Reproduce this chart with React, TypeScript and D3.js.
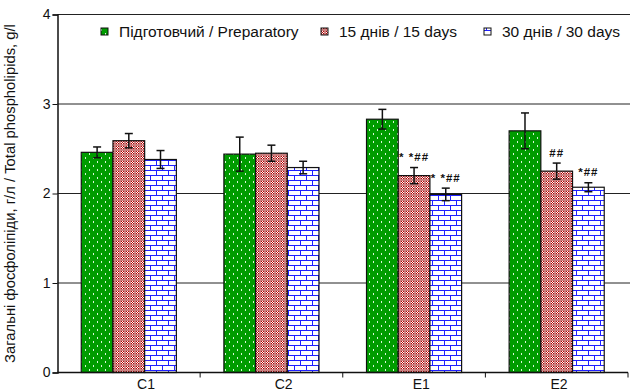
import React, { useEffect, useRef } from "react";
import * as d3 from "d3";

const categories = ["C1", "C2", "E1", "E2"];
const seriesNames = ["Підготовчий / Preparatory", "15 днів / 15 days", "30 днів / 30 days"];
const preparatory = [2.46, 2.44, 2.83, 2.7];
const days15 = [2.59, 2.45, 2.2, 2.25];
const days30 = [2.38, 2.29, 1.99, 2.07];
const errPreparatory = [0.06, 0.19, 0.11, 0.2];
const errDays15 = [0.08, 0.09, 0.09, 0.09];
const errDays30 = [0.1, 0.07, 0.07, 0.05];
const marks15 = ["", "", "* *##", "##"];
const marks30 = ["", "", "* *##", "*##"];
const yTicks = [0, 1, 2, 3, 4];

const App = () => {
  const svgRef = useRef<SVGSVGElement>(null);

  useEffect(() => {
    const width = 630;
    const height = 392;
    const margin = { top: 14.5, right: 2, left: 57.5, bottom: 19.5 };
    const font = "'Liberation Sans', Arial, sans-serif";

    const svg = d3.select(svgRef.current);
    svg.selectAll("*").remove();

    // patterns
    const defs = svg.append("defs");
    const pg = defs
      .append("pattern")
      .attr("id", "pGreen")
      .attr("patternUnits", "userSpaceOnUse")
      .attr("width", 8)
      .attr("height", 8);
    pg.append("rect").attr("width", 8).attr("height", 8).attr("fill", "#009c00");
    pg.append("rect").attr("x", 1).attr("y", 1).attr("width", 1).attr("height", 2).attr("fill", "#d8f8d8");
    pg.append("rect").attr("x", 5).attr("y", 5).attr("width", 1).attr("height", 2).attr("fill", "#d8f8d8");

    const pp = defs
      .append("pattern")
      .attr("id", "pPink")
      .attr("patternUnits", "userSpaceOnUse")
      .attr("width", 5)
      .attr("height", 5);
    pp.append("rect").attr("width", 5).attr("height", 5).attr("fill", "#cc7f7f");
    [
      [1, 1, "#b80000"], [2, 1, "#ffffff"], [3, 1, "#b80000"],
      [1, 2, "#ffffff"], [2, 2, "#b80000"], [3, 2, "#ffffff"],
      [1, 3, "#b80000"], [2, 3, "#ffffff"], [3, 3, "#b80000"],
    ].forEach(([x, y, c]) => {
      pp.append("rect").attr("x", x).attr("y", y).attr("width", 1).attr("height", 1).attr("fill", c as string);
    });

    const pb = defs
      .append("pattern")
      .attr("id", "pBlue")
      .attr("patternUnits", "userSpaceOnUse")
      .attr("width", 12)
      .attr("height", 10);
    pb.append("rect").attr("width", 12).attr("height", 10).attr("fill", "#ffffff");
    pb.append("rect").attr("x", 0).attr("y", 0).attr("width", 12).attr("height", 1).attr("fill", "#2020ff");
    pb.append("rect").attr("x", 0).attr("y", 5).attr("width", 12).attr("height", 1).attr("fill", "#2020ff");
    pb.append("rect").attr("x", 0).attr("y", 0).attr("width", 1).attr("height", 5).attr("fill", "#2020ff");
    pb.append("rect").attr("x", 6).attr("y", 5).attr("width", 1).attr("height", 5).attr("fill", "#2020ff");

    const fills = ["url(#pGreen)", "url(#pPink)", "url(#pBlue)"];

    const x0 = d3
      .scaleBand()
      .domain(categories)
      .range([margin.left, width - margin.right])
      .paddingInner(1 / 3)
      .paddingOuter(1 / 6);
    const x1 = d3.scaleBand().domain(["0", "1", "2"]).range([0, x0.bandwidth()]);
    const xLabel = d3.scalePoint().domain(categories).range([146, 559]);
    const y = d3
      .scaleLinear()
      .domain([0, 4])
      .range([height - margin.bottom, margin.top]);

    // grid lines
    svg
      .append("g")
      .selectAll("line")
      .data(yTicks.filter((t) => t > 0))
      .enter()
      .append("line")
      .attr("x1", margin.left)
      .attr("x2", width)
      .attr("y1", (d) => y(d))
      .attr("y2", (d) => y(d))
      .attr("stroke", "#222")
      .attr("stroke-width", 1);

    const series = [preparatory, days15, days30];
    const errs = [errPreparatory, errDays15, errDays30];
    const marks = [null, marks15, marks30];

    series.forEach((vals, si) => {
      const g = svg.append("g");
      g.selectAll("rect")
        .data(vals)
        .enter()
        .append("rect")
        .attr("x", (d, i) => x0(categories[i])! + x1(String(si))!)
        .attr("y", (d) => y(d))
        .attr("width", x1.bandwidth())
        .attr("height", (d) => y(0) - y(d))
        .attr("fill", fills[si])
        .attr("stroke", "#111")
        .attr("stroke-width", 1.2);

      // error bars
      vals.forEach((v, i) => {
        const cx = x0(categories[i])! + x1(String(si))! + x1.bandwidth() / 2;
        const e = errs[si][i];
        const eg = g.append("g").attr("stroke", "#111").attr("stroke-width", 1.5);
        eg.append("line").attr("x1", cx).attr("x2", cx).attr("y1", y(v + e)).attr("y2", y(v - e));
        eg.append("line").attr("x1", cx - 4).attr("x2", cx + 4).attr("y1", y(v + e)).attr("y2", y(v + e));
        eg.append("line").attr("x1", cx - 4).attr("x2", cx + 4).attr("y1", y(v - e)).attr("y2", y(v - e));

        const m = marks[si];
        if (m && m[i]) {
          g.append("text")
            .attr("x", cx)
            .attr("y", y(v + e) - 6.5)
            .attr("text-anchor", "middle")
            .style("font-family", font)
            .style("font-size", "11.5px")
            .style("font-weight", "bold")
            .style("letter-spacing", "1px")
            .attr("fill", "#111")
            .text(m[i]);
        }
      });
    });

    // top border
    svg
      .append("line")
      .attr("x1", margin.left)
      .attr("x2", width)
      .attr("y1", y(4))
      .attr("y2", y(4))
      .attr("stroke", "#222");

    // axes
    const yAxis = d3.axisLeft(y).tickValues(yTicks).tickSize(5).tickFormat(d3.format("d"));
    const ga = svg.append("g").attr("transform", `translate(${margin.left},0)`).call(yAxis);
    ga.select(".domain").attr("stroke", "#111").attr("stroke-width", 1.5);
    ga.selectAll(".tick line").attr("stroke", "#111");
    ga.selectAll(".tick text")
      .style("font-family", font)
      .style("font-size", "14px")
      .attr("fill", "#111")
      .attr("x", -7);

    const xg = svg.append("g");
    xg.append("line")
      .attr("x1", margin.left)
      .attr("x2", width - margin.right)
      .attr("y1", y(0))
      .attr("y2", y(0))
      .attr("stroke", "#111")
      .attr("stroke-width", 1.5);
    const bounds = categories.map((c) => x0(c)! - (x0.step() * x0.paddingInner()) / 2 + x0.step());
    xg.selectAll("line.tk")
      .data(bounds)
      .enter()
      .append("line")
      .attr("class", "tk")
      .attr("x1", (d) => d)
      .attr("x2", (d) => d)
      .attr("y1", y(0))
      .attr("y2", y(0) + 5)
      .attr("stroke", "#111");
    xg.selectAll("text")
      .data(categories)
      .enter()
      .append("text")
      .attr("x", (d) => xLabel(d)!)
      .attr("y", height - 3)
      .attr("text-anchor", "middle")
      .style("font-family", font)
      .style("font-size", "14px")
      .attr("fill", "#111")
      .text((d) => d);

    // y label
    svg
      .append("text")
      .attr("transform", `translate(15,${y(2)}) rotate(-90)`)
      .attr("text-anchor", "middle")
      .style("font-family", font)
      .style("font-size", "14.8px")
      .attr("fill", "#111")
      .text("Загальні фосфоліпіди, г/л / Total phospholipids, g/l");

    // legend
    const legendX = [101, 321, 484];
    const lg = svg.append("g");
    seriesNames.forEach((name, i) => {
      lg.append("rect")
        .attr("x", legendX[i])
        .attr("y", 28)
        .attr("width", 7)
        .attr("height", 7)
        .attr("fill", fills[i])
        .attr("stroke", "#111")
        .attr("stroke-width", 1);
      lg.append("text")
        .attr("x", legendX[i] + 18)
        .attr("y", 37)
        .style("font-family", font)
        .style("font-size", "15.5px")
        .attr("fill", "#111")
        .text(name);
    });
  }, []);

  return (
    <svg
      ref={svgRef}
      width={630}
      height={392}
      style={{ position: "absolute", left: 0, top: 0, background: "#fff" }}
    />
  );
};

export default App;
